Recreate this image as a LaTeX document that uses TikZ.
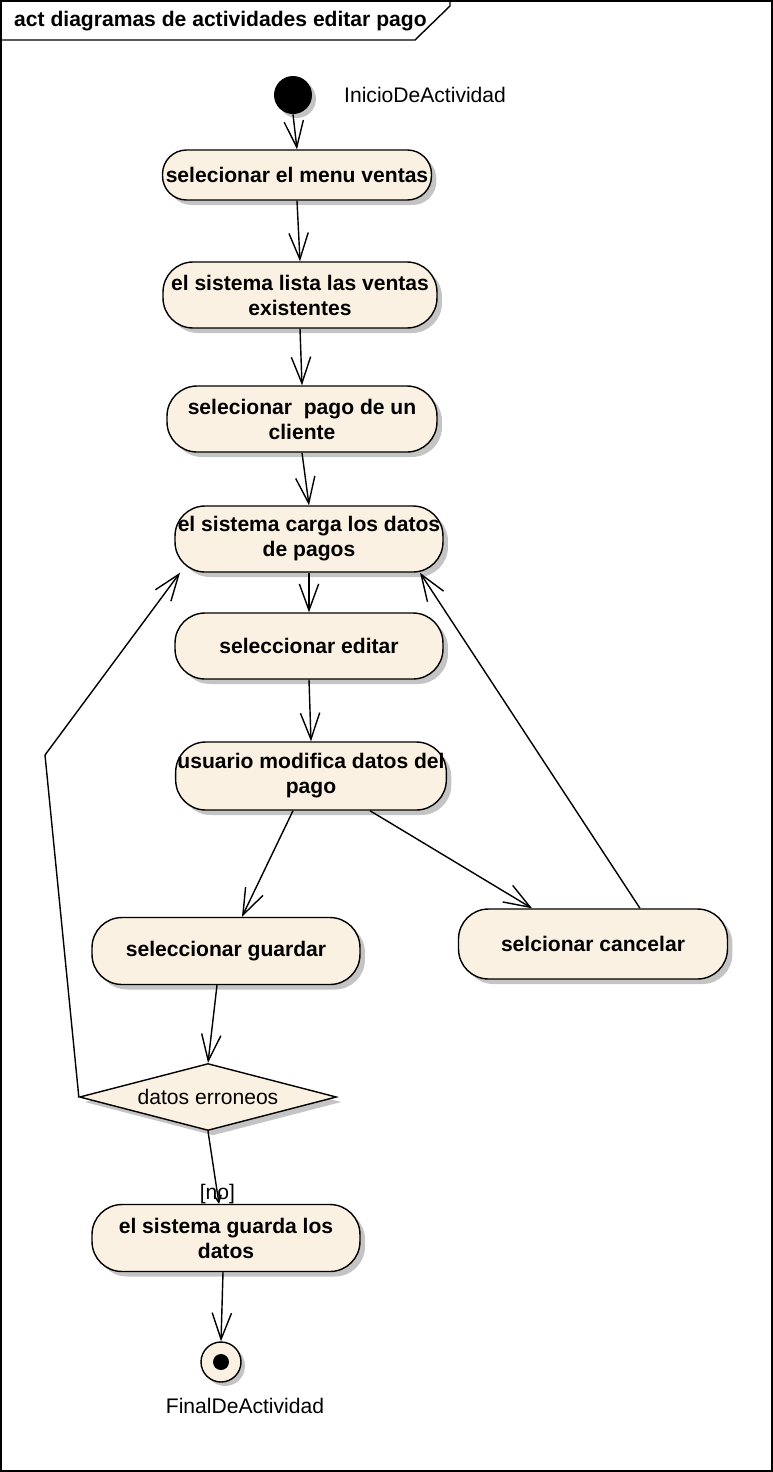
\documentclass[tikz,border=0pt]{standalone}
\usepackage{fontspec}
\setmainfont{Liberation Sans}
\usepackage{tikz}
\usetikzlibrary{arrows.meta,positioning,shapes.geometric,shadows,calc}
\definecolor{actfill}{RGB}{251,241,226}
\definecolor{shadowgray}{RGB}{196,196,196}

\begin{document}
\begin{tikzpicture}[
  x=0.02cm, y=-0.02cm,
  every node/.style={font=\fontsize{12}{14.2}\selectfont},
  actbox/.style={draw=black, line width=0.8pt, rounded corners=0.6cm, fill=actfill, align=center,
    minimum width=5.36cm, minimum height=1.32cm, inner sep=1pt, font=\fontsize{12}{14.2}\selectfont\bfseries,
    drop shadow={shadow xshift=0.1cm, shadow yshift=-0.1cm, fill=shadowgray, opacity=1}},
  decision/.style={diamond, draw=black, line width=0.8pt, fill=actfill, aspect=3.8,
    minimum width=5.14cm, minimum height=1.34cm, inner sep=0pt,
    drop shadow={shadow xshift=0.1cm, shadow yshift=-0.1cm, fill=shadowgray, opacity=1}},
  arrow/.style={-{Straight Barb[length=15pt,width=11pt]}, line width=0.8pt}
]
  \useasboundingbox (0,0) rectangle (773,1472);

  % frame and title tab
  \draw[line width=0.8pt] (1,1) rectangle (772,1471);
  \draw[line width=0.8pt] (1,40) -- (415,40) -- (450,6) -- (450,1);
  \node[anchor=west, font=\fontsize{12}{14}\selectfont\bfseries] (title) at (8,21) {act diagramas de actividades editar pago};

  % start / end
  \node[circle, fill=black, minimum size=0.76cm, inner sep=0pt,
    drop shadow={shadow xshift=0.08cm, shadow yshift=-0.08cm, fill=shadowgray, opacity=1}] (inicio) at (293,95) {};
  \node[anchor=west] (inicioLbl) at (338,95) {InicioDeActividad};

  \node[circle, draw=black, line width=0.8pt, fill=actfill, minimum size=0.8cm, inner sep=0pt,
    drop shadow={shadow xshift=0.08cm, shadow yshift=-0.08cm, fill=shadowgray, opacity=1},
    path picture={\fill[black] (path picture bounding box.center) circle (0.16cm);}] (final) at (221,1362) {};
  \node (finalLbl) at (245,1406) {FinalDeActividad};

  % activities
  \node[actbox, minimum width=5.38cm, minimum height=1.0cm, rounded corners=0.48cm] (menuVentas) at (297,175) {selecionar el menu ventas};
  \node[actbox, minimum width=5.48cm] (listaVentas) at (300,295) {el sistema lista las ventas\\existentes};
  \node[actbox, minimum width=5.40cm] (pagoCliente) at (302,419) {selecionar\ \ pago de un\\cliente};
  \node[actbox] (cargaDatos) at (309,539) {el sistema carga los datos\\de pagos};
  \node[actbox] (editar) at (309,646) {seleccionar editar};
  \node[actbox, minimum width=5.30cm, minimum height=1.36cm] (modifica) at (311,776) {usuario modifica datos del\\pago};
  \node[actbox, minimum height=1.34cm] (guardar) at (226,951) {seleccionar guardar};
  \node[actbox, minimum width=5.38cm, minimum height=1.40cm] (cancelar) at (593,944) {selcionar cancelar};
  \node[decision] (erroneos) at (208,1097) {datos erroneos};
  \node[actbox, minimum height=1.34cm] (guardaDatos) at (226,1238) {el sistema guarda los\\datos};

  \coordinate (loopBend) at (45,755);

  % flows
  \draw[arrow] (inicio.south) -- (menuVentas.north);
  \draw[arrow] (menuVentas.south) -- (listaVentas.north);
  \draw[arrow] (listaVentas.south) -- (pagoCliente.north);
  \draw[arrow] (pagoCliente.south) -- (cargaDatos.north);
  \draw[arrow] (cargaDatos.south) -- (editar.north);
  \draw[arrow] (editar.south) -- (modifica.north);
  \draw[arrow] ([xshift=-0.36cm]modifica.south) -- ([xshift=0.32cm]guardar.north);
  \draw[arrow] ([xshift=1.18cm]modifica.south) -- ([xshift=-1.22cm]cancelar.north);
  \draw[arrow] ([xshift=0.94cm]cancelar.north) -- ([xshift=2.22cm]cargaDatos.south);
  \draw[arrow] ([xshift=-0.18cm]guardar.south) -- (erroneos.north);
  \draw[arrow] (erroneos.west) -- (loopBend) -- ([xshift=-2.58cm]cargaDatos.south);
  \draw[-{Straight Barb[length=4pt,width=4pt]}, line width=0.8pt] (erroneos.south) -- node[pos=0.86] {[no]} ([xshift=-0.14cm]guardaDatos.north);
  \draw[arrow] ([xshift=-0.06cm]guardaDatos.south) -- (final.north);

\end{tikzpicture}
\end{document}
